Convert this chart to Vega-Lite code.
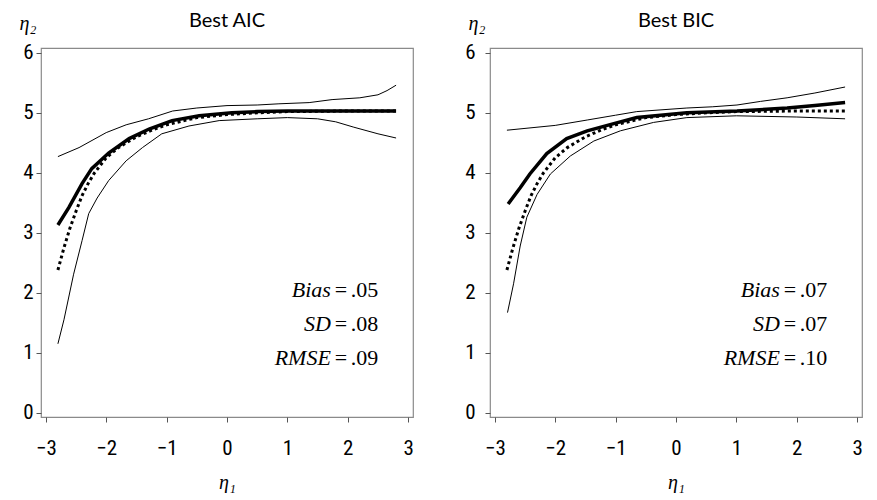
{
"$schema": "https://vega.github.io/schema/vega-lite/v6.json",
"padding": {"left": 18, "top": 10, "right": 5, "bottom": 0},
"spacing": 77,
"bounds": "flush",
"config": {
  "view": {"stroke": "#8a8a8a", "strokeWidth": 1.2},
  "axis": {"grid": false, "domain": false, "tickColor": "#555", "tickSize": 5, "labelFont": "Roboto Condensed, Roboto", "labelFontSize": 21, "labelColor": "#000", "titleFont": "Liberation Serif", "titleFontSize": 20, "titleFontStyle": "italic", "titleFontWeight": "normal", "titleColor": "#000"},
  "title": {"font": "Lato", "fontSize": 20, "fontWeight": "normal", "color": "#000", "anchor": "middle", "offset": -18},
  "line": {"color": "#000"},
  "text": {"font": "Liberation Serif", "fontSize": 22, "color": "#000"}
},
"datasets": {
  "truth": [
    {"x": -2.8, "y": 2.38}, {"x": -2.7, "y": 2.75}, {"x": -2.6, "y": 3.08}, {"x": -2.5, "y": 3.36}, {"x": -2.4, "y": 3.62}, {"x": -2.3, "y": 3.82}, {"x": -2.2, "y": 3.99}, {"x": -2.0, "y": 4.25}, {"x": -1.8, "y": 4.42}, {"x": -1.5, "y": 4.6}, {"x": -1.2, "y": 4.73}, {"x": -1.0, "y": 4.8}, {"x": -0.5, "y": 4.92}, {"x": 0, "y": 4.97}, {"x": 0.5, "y": 5.0}, {"x": 1.0, "y": 5.02}, {"x": 2.0, "y": 5.03}, {"x": 2.8, "y": 5.03}
  ],
  "aic": [
    {"series": "upper", "x": -2.8, "y": 4.27}, {"series": "upper", "x": -2.45, "y": 4.42}, {"series": "upper", "x": -2.0, "y": 4.67}, {"series": "upper", "x": -1.67, "y": 4.8}, {"series": "upper", "x": -1.3, "y": 4.9}, {"series": "upper", "x": -0.9, "y": 5.03}, {"series": "upper", "x": -0.5, "y": 5.08}, {"series": "upper", "x": 0, "y": 5.12}, {"series": "upper", "x": 0.5, "y": 5.13}, {"series": "upper", "x": 0.86, "y": 5.15}, {"series": "upper", "x": 1.36, "y": 5.17}, {"series": "upper", "x": 1.74, "y": 5.22}, {"series": "upper", "x": 2.2, "y": 5.25}, {"series": "upper", "x": 2.5, "y": 5.3}, {"series": "upper", "x": 2.65, "y": 5.37}, {"series": "upper", "x": 2.8, "y": 5.46},
    {"series": "lower", "x": -2.8, "y": 1.15}, {"series": "lower", "x": -2.7, "y": 1.55}, {"series": "lower", "x": -2.54, "y": 2.31}, {"series": "lower", "x": -2.4, "y": 2.87}, {"series": "lower", "x": -2.29, "y": 3.32}, {"series": "lower", "x": -2.15, "y": 3.58}, {"series": "lower", "x": -1.96, "y": 3.87}, {"series": "lower", "x": -1.67, "y": 4.2}, {"series": "lower", "x": -1.4, "y": 4.42}, {"series": "lower", "x": -1.08, "y": 4.65}, {"series": "lower", "x": -0.63, "y": 4.78}, {"series": "lower", "x": -0.13, "y": 4.87}, {"series": "lower", "x": 0.5, "y": 4.9}, {"series": "lower", "x": 1.0, "y": 4.92}, {"series": "lower", "x": 1.5, "y": 4.9}, {"series": "lower", "x": 1.8, "y": 4.85}, {"series": "lower", "x": 2.1, "y": 4.76}, {"series": "lower", "x": 2.5, "y": 4.65}, {"series": "lower", "x": 2.8, "y": 4.58},
    {"series": "est", "x": -2.8, "y": 3.13}, {"series": "est", "x": -2.62, "y": 3.42}, {"series": "est", "x": -2.4, "y": 3.82}, {"series": "est", "x": -2.24, "y": 4.07}, {"series": "est", "x": -1.96, "y": 4.33}, {"series": "est", "x": -1.62, "y": 4.57}, {"series": "est", "x": -1.29, "y": 4.73}, {"series": "est", "x": -0.91, "y": 4.87}, {"series": "est", "x": -0.46, "y": 4.95}, {"series": "est", "x": 0.08, "y": 5.0}, {"series": "est", "x": 0.5, "y": 5.02}, {"series": "est", "x": 1.0, "y": 5.03}, {"series": "est", "x": 2.0, "y": 5.03}, {"series": "est", "x": 2.8, "y": 5.03}
  ],
  "bic": [
    {"series": "upper", "x": -2.8, "y": 4.71}, {"series": "upper", "x": -2.0, "y": 4.79}, {"series": "upper", "x": -1.47, "y": 4.88}, {"series": "upper", "x": -1.0, "y": 4.96}, {"series": "upper", "x": -0.65, "y": 5.02}, {"series": "upper", "x": 0.18, "y": 5.08}, {"series": "upper", "x": 0.6, "y": 5.1}, {"series": "upper", "x": 1.01, "y": 5.13}, {"series": "upper", "x": 1.4, "y": 5.19}, {"series": "upper", "x": 1.84, "y": 5.25}, {"series": "upper", "x": 2.3, "y": 5.33}, {"series": "upper", "x": 2.8, "y": 5.43},
    {"series": "lower", "x": -2.79, "y": 1.67}, {"series": "lower", "x": -2.69, "y": 2.15}, {"series": "lower", "x": -2.58, "y": 2.78}, {"series": "lower", "x": -2.47, "y": 3.26}, {"series": "lower", "x": -2.3, "y": 3.64}, {"series": "lower", "x": -2.08, "y": 3.98}, {"series": "lower", "x": -1.75, "y": 4.28}, {"series": "lower", "x": -1.36, "y": 4.53}, {"series": "lower", "x": -0.92, "y": 4.7}, {"series": "lower", "x": -0.37, "y": 4.84}, {"series": "lower", "x": 0.18, "y": 4.92}, {"series": "lower", "x": 1.0, "y": 4.95}, {"series": "lower", "x": 2.0, "y": 4.93}, {"series": "lower", "x": 2.8, "y": 4.9},
    {"series": "est", "x": -2.78, "y": 3.48}, {"series": "est", "x": -2.58, "y": 3.75}, {"series": "est", "x": -2.42, "y": 3.98}, {"series": "est", "x": -2.14, "y": 4.32}, {"series": "est", "x": -1.81, "y": 4.57}, {"series": "est", "x": -1.47, "y": 4.7}, {"series": "est", "x": -1.03, "y": 4.82}, {"series": "est", "x": -0.65, "y": 4.92}, {"series": "est", "x": 0.18, "y": 5.0}, {"series": "est", "x": 1.01, "y": 5.03}, {"series": "est", "x": 1.84, "y": 5.08}, {"series": "est", "x": 2.3, "y": 5.12}, {"series": "est", "x": 2.8, "y": 5.17}
  ],
  "aicstats": [
    {"metric": "Bias", "value": ".05"}, {"metric": "SD", "value": ".08"}, {"metric": "RMSE", "value": ".09"}
  ],
  "bicstats": [
    {"metric": "Bias", "value": ".07"}, {"metric": "SD", "value": ".07"}, {"metric": "RMSE", "value": ".10"}
  ]
},
"hconcat": [
  {
    "width": 372, "height": 369,
    "title": "Best AIC",
    "layer": [
      {"data": {"name": "aic"}, "transform": [{"filter": "datum.series === 'upper'"}], "mark": {"type": "line", "strokeWidth": 1},
       "encoding": {
         "x": {"field": "x", "type": "quantitative", "scale": {"domain": [-3.08, 3.08], "nice": false, "zero": false}, "axis": {"values": [-3, -2, -1, 0, 1, 2, 3], "format": "d", "title": "η₁", "titleAngle": 0, "titleX": 186, "titleY": 71, "titleAlign": "center", "titleBaseline": "alphabetic", "labelPadding": 15}},
         "y": {"field": "y", "type": "quantitative", "scale": {"domain": [-0.07, 6.08], "nice": false, "zero": false}, "axis": {"values": [0, 1, 2, 3, 4, 5, 6], "format": "d", "title": "η₂", "titleAngle": 0, "titleX": -22, "titleY": -19, "titleAlign": "left", "titleBaseline": "alphabetic", "labelPadding": 3}}
       }},
      {"data": {"name": "aic"}, "transform": [{"filter": "datum.series === 'lower'"}], "mark": {"type": "line", "strokeWidth": 1},
       "encoding": {"x": {"field": "x", "type": "quantitative"}, "y": {"field": "y", "type": "quantitative"}}},
      {"data": {"name": "aic"}, "transform": [{"filter": "datum.series === 'est'"}], "mark": {"type": "line", "strokeWidth": 3.5},
       "encoding": {"x": {"field": "x", "type": "quantitative"}, "y": {"field": "y", "type": "quantitative"}}},
      {"data": {"name": "truth"}, "mark": {"type": "line", "strokeWidth": 3, "strokeDash": [3, 3]},
       "encoding": {"x": {"field": "x", "type": "quantitative"}, "y": {"field": "y", "type": "quantitative"}}},
      {"data": {"name": "aicstats"}, "mark": {"type": "text", "align": "right", "baseline": "middle", "fontStyle": "italic"},
       "encoding": {"x": {"datum": 1.72}, "y": {"datum": 2.05}, "yOffset": {"field": "metric", "type": "nominal", "scale": {"type": "point", "padding": 0, "domain": ["Bias", "SD", "RMSE"], "range": [0, 68]}}, "text": {"field": "metric"}}},
      {"data": {"name": "aicstats"}, "mark": {"type": "text", "align": "center", "baseline": "middle", "dx": 10, "text": "="},
       "encoding": {"x": {"datum": 1.72}, "y": {"datum": 2.05}, "yOffset": {"field": "metric", "type": "nominal", "scale": {"type": "point", "padding": 0, "domain": ["Bias", "SD", "RMSE"], "range": [0, 68]}}}},
      {"data": {"name": "aicstats"}, "mark": {"type": "text", "align": "left", "baseline": "middle", "dx": 20},
       "encoding": {"x": {"datum": 1.72}, "y": {"datum": 2.05}, "yOffset": {"field": "metric", "type": "nominal", "scale": {"type": "point", "padding": 0, "domain": ["Bias", "SD", "RMSE"], "range": [0, 68]}}, "text": {"field": "value"}}}
    ]
  },
  {
    "width": 372, "height": 369,
    "title": "Best BIC",
    "layer": [
      {"data": {"name": "bic"}, "transform": [{"filter": "datum.series === 'upper'"}], "mark": {"type": "line", "strokeWidth": 1},
       "encoding": {
         "x": {"field": "x", "type": "quantitative", "scale": {"domain": [-3.08, 3.08], "nice": false, "zero": false}, "axis": {"values": [-3, -2, -1, 0, 1, 2, 3], "format": "d", "title": "η₁", "titleAngle": 0, "titleX": 186, "titleY": 71, "titleAlign": "center", "titleBaseline": "alphabetic", "labelPadding": 15}},
         "y": {"field": "y", "type": "quantitative", "scale": {"domain": [-0.07, 6.08], "nice": false, "zero": false}, "axis": {"values": [0, 1, 2, 3, 4, 5, 6], "format": "d", "title": "η₂", "titleAngle": 0, "titleX": -22, "titleY": -19, "titleAlign": "left", "titleBaseline": "alphabetic", "labelPadding": 10}}
       }},
      {"data": {"name": "bic"}, "transform": [{"filter": "datum.series === 'lower'"}], "mark": {"type": "line", "strokeWidth": 1},
       "encoding": {"x": {"field": "x", "type": "quantitative"}, "y": {"field": "y", "type": "quantitative"}}},
      {"data": {"name": "bic"}, "transform": [{"filter": "datum.series === 'est'"}], "mark": {"type": "line", "strokeWidth": 3.5},
       "encoding": {"x": {"field": "x", "type": "quantitative"}, "y": {"field": "y", "type": "quantitative"}}},
      {"data": {"name": "truth"}, "mark": {"type": "line", "strokeWidth": 3, "strokeDash": [3, 3]},
       "encoding": {"x": {"field": "x", "type": "quantitative"}, "y": {"field": "y", "type": "quantitative"}}},
      {"data": {"name": "bicstats"}, "mark": {"type": "text", "align": "right", "baseline": "middle", "fontStyle": "italic"},
       "encoding": {"x": {"datum": 1.72}, "y": {"datum": 2.05}, "yOffset": {"field": "metric", "type": "nominal", "scale": {"type": "point", "padding": 0, "domain": ["Bias", "SD", "RMSE"], "range": [0, 68]}}, "text": {"field": "metric"}}},
      {"data": {"name": "bicstats"}, "mark": {"type": "text", "align": "center", "baseline": "middle", "dx": 10, "text": "="},
       "encoding": {"x": {"datum": 1.72}, "y": {"datum": 2.05}, "yOffset": {"field": "metric", "type": "nominal", "scale": {"type": "point", "padding": 0, "domain": ["Bias", "SD", "RMSE"], "range": [0, 68]}}}},
      {"data": {"name": "bicstats"}, "mark": {"type": "text", "align": "left", "baseline": "middle", "dx": 20},
       "encoding": {"x": {"datum": 1.72}, "y": {"datum": 2.05}, "yOffset": {"field": "metric", "type": "nominal", "scale": {"type": "point", "padding": 0, "domain": ["Bias", "SD", "RMSE"], "range": [0, 68]}}, "text": {"field": "value"}}}
    ]
  }
]
}
